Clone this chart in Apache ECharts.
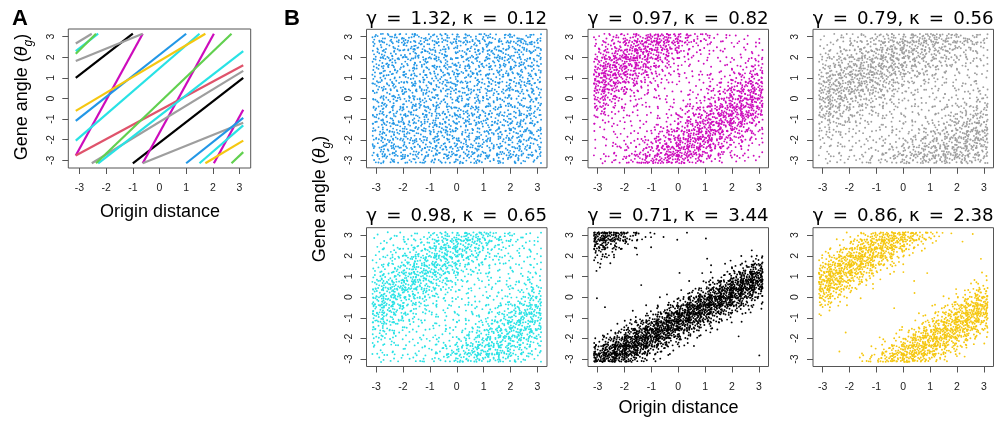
<!DOCTYPE html>
<html>
<head>
<meta charset="utf-8">
<title>Gene angle vs origin distance</title>
<script src="https://cdn.jsdelivr.net/npm/echarts@6/dist/echarts.min.js"></script>
<style>html,body{margin:0;background:#fff;}</style>
</head>
<body>
<div id="main" style="width:997px;height:421px;"></div>
<script>
var ticks = [-3, -2, -1, 0, 1, 2, 3];

// panel A: each coloured line, as segments [x1, y1, x2, y2] (wrapped at +-pi)
var lineColors = ['#000000', '#CD0BBC', '#DF536B', '#9E9E9E', '#9E9E9E',
                  '#2297E6', '#28E2E5', '#28E2E5', '#F5C710', '#61D04F'];
var lineSegs = [
  [[-3.14, 1.00, -1.00, 3.14], [-1.00, -3.14, 3.14, 1.00]],
  [[-3.14, -2.76, -0.63, 3.14], [-0.63, -3.14, 2.04, 3.14], [2.04, -3.14, 3.14, -0.55]],
  [[-3.14, -2.76, 3.14, 1.61]],
  [[-3.14, 1.82, -0.63, 3.14], [-0.63, -3.14, 3.14, -1.18]],
  [[-3.14, 2.67, -2.54, 3.14], [-2.54, -3.14, 3.14, 1.34]],
  [[-3.14, -1.08, 1.00, 3.14], [1.00, -3.14, 3.14, -0.94]],
  [[-3.14, -2.04, 1.50, 3.14], [1.50, -3.14, 3.14, -1.30]],
  [[-3.14, 2.30, -2.30, 3.14], [-2.30, -3.14, 3.14, 2.30]],
  [[-3.14, -0.60, 1.72, 3.14], [1.72, -3.14, 3.14, -2.04]],
  [[-3.14, 2.17, -2.38, 3.14], [-2.38, -3.14, 2.70, 3.14], [2.70, -3.14, 3.14, -2.60]]
];

// panel B: titles, dot colours, and point counts read off each cloud
// (16 x 16 cells over [-pi, pi]; rows run from top (y = pi) to bottom)
var titles = ['γ\u2002=\u20021.32, κ\u2002=\u20020.12', 'γ\u2002=\u20020.97, κ\u2002=\u20020.82',
              'γ\u2002=\u20020.79, κ\u2002=\u20020.56', 'γ\u2002=\u20020.98, κ\u2002=\u20020.65',
              'γ\u2002=\u20020.71, κ\u2002=\u20023.44', 'γ\u2002=\u20020.86, κ\u2002=\u20022.38'];
var dotColors = ['#2297E6', '#CD0BBC', '#9E9E9E', '#28E2E5', '#000000', '#F5C710'];

var blueCounts = [
  [10,9,11,10,9,8,10,9,10,11,9,8,9,10,9,8],
  [9,8,9,10,11,9,8,8,9,9,10,9,8,9,10,9],
  [8,9,8,9,10,10,9,7,8,9,10,11,10,9,8,9],
  [9,10,8,7,9,9,8,8,9,10,9,9,10,10,9,8],
  [8,9,8,8,7,9,10,9,8,9,8,8,9,9,10,8],
  [9,8,7,8,8,8,9,10,9,8,7,8,8,9,8,9],
  [8,7,8,9,8,7,8,9,10,9,8,7,9,8,9,8],
  [7,8,9,8,9,8,7,8,9,8,9,8,8,7,8,9],
  [8,9,8,9,9,8,9,7,8,9,8,9,8,8,7,8],
  [9,8,9,10,8,9,8,8,9,10,9,8,7,8,9,8],
  [9,10,9,8,9,10,9,9,8,9,10,9,8,9,8,9],
  [8,9,10,9,9,10,10,9,8,8,9,10,9,8,9,8],
  [9,8,9,10,9,9,10,10,9,8,8,9,10,9,8,9],
  [10,9,8,9,10,9,11,9,10,9,9,8,9,10,9,8],
  [9,10,9,8,9,10,9,10,9,10,9,9,8,9,10,9],
  [8,9,10,9,8,9,8,9,10,9,10,9,8,9,8,7]
];
var magentaCounts = [
  [4,6,8,12,16,19,20,17,13,9,6,4,3,2,2,2],
  [6,9,12,16,19,20,17,13,9,6,4,3,2,2,2,3],
  [9,13,16,19,20,17,13,9,6,4,3,2,2,2,3,4],
  [13,17,19,19,17,13,9,6,4,3,2,2,2,3,4,6],
  [17,20,19,16,13,9,6,4,3,2,2,2,3,4,6,10],
  [20,19,16,12,9,6,4,3,2,2,2,3,5,7,10,14],
  [19,16,12,9,6,4,3,2,2,2,3,5,7,10,14,18],
  [16,12,8,6,4,3,2,2,2,3,5,7,10,14,18,20],
  [12,8,5,4,3,2,2,2,3,5,7,10,14,18,20,18],
  [8,5,4,3,2,2,2,3,5,7,11,15,18,20,18,15],
  [5,4,3,2,2,2,3,5,7,11,15,18,20,18,15,11],
  [3,3,2,2,3,3,5,7,11,15,19,20,18,14,10,7],
  [2,2,2,3,3,5,8,11,15,19,20,18,14,10,7,5],
  [2,2,3,4,5,8,12,15,19,20,18,14,10,7,5,3],
  [2,3,4,6,8,12,16,19,20,17,13,10,6,4,3,2],
  [3,4,6,8,12,16,19,20,17,13,9,6,4,3,2,2]
];
var grayCounts = [
  [3,3,4,5,6,8,10,12,13,15,15,14,12,10,9,7],
  [4,4,6,7,8,10,12,14,15,15,13,12,10,8,7,5],
  [5,6,7,9,11,13,14,15,14,13,11,9,7,6,5,4],
  [6,8,10,12,13,15,15,14,12,11,9,7,6,4,4,3],
  [8,10,12,14,15,15,13,12,10,8,7,5,4,3,3,3],
  [11,13,14,15,14,13,11,9,7,6,5,4,3,3,3,3],
  [13,15,15,14,12,11,9,7,6,4,4,3,3,3,3,4],
  [15,15,13,12,10,8,7,5,4,3,3,3,3,3,4,5],
  [14,13,11,9,7,6,5,4,3,3,3,3,4,4,6,7],
  [12,11,9,7,6,4,4,3,3,3,3,4,5,6,7,9],
  [10,8,7,5,4,3,3,3,3,3,4,5,6,8,10,12],
  [7,6,5,4,3,3,3,3,4,4,6,7,8,10,12,14],
  [6,4,4,3,3,3,3,4,5,6,7,9,11,13,14,15],
  [4,3,3,3,3,3,4,5,6,8,10,12,13,15,15,14],
  [3,3,3,3,4,4,6,7,8,10,12,14,15,15,13,12],
  [3,3,3,4,5,6,7,9,11,13,14,15,14,13,11,9]
];
var cyanCounts = [
  [3,3,3,4,5,7,10,13,15,16,14,11,8,6,4,3],
  [3,3,4,5,7,10,13,15,16,14,11,8,6,4,3,3],
  [3,4,5,7,10,13,15,16,14,11,8,6,4,3,3,3],
  [4,5,7,10,13,15,16,14,11,8,6,4,3,3,3,3],
  [5,7,10,13,15,16,14,11,8,6,4,3,3,3,3,4],
  [7,10,13,15,16,14,11,8,6,4,3,3,3,3,4,5],
  [10,13,15,16,14,11,8,6,4,3,3,3,3,4,5,7],
  [13,15,16,14,11,8,6,4,3,3,3,3,4,5,7,10],
  [15,16,14,11,8,6,4,3,3,3,3,4,5,7,10,13],
  [16,14,11,8,6,4,3,3,3,3,4,5,7,10,13,15],
  [14,11,8,6,4,3,3,3,3,4,5,7,10,13,15,16],
  [11,8,6,4,3,3,3,3,4,5,7,10,13,15,16,14],
  [8,6,4,3,3,3,3,4,5,7,10,13,15,16,14,11],
  [6,4,3,3,3,3,4,5,7,10,13,15,16,14,11,8],
  [4,3,3,3,3,4,5,7,10,13,15,16,14,11,8,6],
  [3,3,3,3,4,5,7,10,13,15,16,14,11,8,6,4]
];
var blackCounts = [
  [36,32,22,12,5,2,1,0,0,0,1,0,0,0,0,0],
  [25,16,8,3,1,1,0,1,0,0,0,0,0,0,0,0],
  [12,5,2,1,0,0,0,0,0,0,0,0,0,0,0,2],
  [5,2,0,0,0,0,0,0,0,0,1,1,0,1,3,9],
  [2,0,0,0,0,0,0,0,0,0,0,0,2,5,13,26],
  [0,0,0,0,0,0,0,0,1,0,1,3,8,19,33,44],
  [0,0,0,0,1,0,0,0,0,1,5,13,25,39,45,39],
  [0,0,0,0,0,0,0,1,2,8,18,32,43,44,33,19],
  [1,0,0,0,0,0,1,4,12,25,39,45,40,27,13,5],
  [0,1,0,1,1,2,7,17,31,43,44,34,20,9,3,1],
  [0,0,0,1,4,11,23,38,45,40,27,14,5,2,0,1],
  [0,0,2,7,16,30,42,44,35,21,9,4,1,0,0,0],
  [1,4,11,23,37,45,41,28,15,6,2,0,0,1,0,0],
  [6,16,30,42,45,36,22,10,4,1,0,0,0,0,0,0],
  [22,36,45,42,29,15,6,2,0,0,0,0,0,0,0,0],
  [38,42,36,22,10,4,1,0,1,0,0,0,0,0,0,1]
];
var yellowCounts = [
  [0,0,1,5,11,19,26,28,22,14,7,2,0,0,1,0],
  [0,2,5,12,20,27,27,21,12,6,2,0,0,1,0,0],
  [2,6,13,22,28,27,20,11,5,1,0,0,0,0,0,0],
  [7,15,23,28,26,18,10,4,1,0,0,0,0,0,0,1],
  [16,24,28,25,17,9,3,2,0,0,0,0,0,0,0,0],
  [25,28,23,15,8,3,1,0,0,0,1,0,0,0,0,2],
  [28,22,14,7,2,1,0,0,0,1,0,0,0,0,2,6],
  [21,13,6,2,0,0,0,0,0,1,0,0,1,3,8,15],
  [11,5,2,0,0,0,0,0,0,0,0,1,3,9,16,24],
  [4,1,0,0,0,0,0,1,0,0,1,4,10,18,25,28],
  [1,0,0,0,0,0,0,0,0,1,5,11,19,27,28,22],
  [0,0,0,0,0,0,0,0,2,5,12,21,27,27,21,12],
  [0,0,1,0,0,0,0,2,6,14,22,28,27,19,11,5],
  [0,0,0,0,0,1,3,7,15,23,28,25,18,10,4,1],
  [0,1,0,0,1,3,8,16,24,28,24,17,9,3,1,0],
  [0,0,0,1,4,9,18,25,28,23,15,8,3,1,0,0]
];
var cloudCounts = [blueCounts, magentaCounts, grayCounts, cyanCounts, blackCounts, yellowCounts];

// spread each cell's count over the cell with a Halton (2,3) sequence,
// starting each cell at a different index so cells do not line up
function halton(idx, base) {
  var f = 1, r = 0;
  while (idx > 0) { f /= base; r += f * (idx % base); idx = Math.floor(idx / base); }
  return r;
}
function cloud(counts) {
  var pts = [], n = counts.length, w = 2 * Math.PI / n, PI = Math.PI;
  function foldX(v) { return v > PI ? 2 * PI - v : (v < -PI ? -2 * PI - v : v); }
  function wrapY(v) { return v > PI ? v - 2 * PI : (v < -PI ? v + 2 * PI : v); }
  counts.forEach(function (row, j) {
    row.forEach(function (cnt, i) {
      var start = 1 + (((i * 73856093) ^ (j * 19349663)) >>> 0) % 6007;
      for (var m = 0; m < cnt; m++) {
        var u = halton(start + m, 2), v = halton(start + m, 3);
        var x = -PI + (i + 0.5 + (u - 0.5) * 1.3) * w;
        var y = PI - (j + 0.5 + (v - 0.5) * 1.3) * w;
        pts.push([foldX(x), wrapY(y)]);
      }
    });
  });
  return pts;
}

// plot boxes: [left, top, width, height]
var boxes = [
  [68.3, 29, 182.4, 139],
  [366.5, 29.3, 180.5, 138.5], [588, 29.3, 180.5, 138.5], [813, 29.3, 180.5, 138.5],
  [366.5, 227.7, 180.5, 138.8], [588, 227.7, 180.5, 138.8], [813, 227.7, 180.5, 138.8]
];
var tickFont = { fontFamily: 'Liberation Sans', fontSize: 10.5, color: '#222' };

var grids = [], xAxes = [], yAxes = [];
boxes.forEach(function (b, gi) {
  var xr = gi === 0 ? 3.42 : 3.36, yr = gi === 0 ? 3.37 : 3.36;
  grids.push({ left: b[0], top: b[1], width: b[2], height: b[3], show: true,
               borderColor: '#555', borderWidth: 1, backgroundColor: 'transparent' });
  xAxes.push({ gridIndex: gi, type: 'value', min: -xr, max: xr, position: 'bottom',
    axisLine: { show: false, onZero: false }, splitLine: { show: false },
    axisTick: { show: true, customValues: ticks, length: 6, lineStyle: { color: '#555' } },
    axisLabel: Object.assign({ customValues: ticks, margin: 15 }, tickFont) });
  yAxes.push({ gridIndex: gi, type: 'value', min: -yr, max: yr, position: 'left',
    axisLine: { show: false, onZero: false }, splitLine: { show: false },
    axisTick: { show: true, customValues: ticks, length: 6, lineStyle: { color: '#555' } },
    axisLabel: Object.assign({ customValues: ticks, margin: 12, rotate: 90 }, tickFont) });
});

var series = [];
var segData = [];
lineSegs.forEach(function (segs, li) {
  segs.forEach(function (s) {
    segData.push({ coords: [[s[0], s[1]], [s[2], s[3]]], lineStyle: { color: lineColors[li] } });
  });
});
series.push({ type: 'lines', coordinateSystem: 'cartesian2d', xAxisIndex: 0, yAxisIndex: 0,
  data: segData, lineStyle: { width: 2.2, opacity: 1 }, silent: true, animation: false });

cloudCounts.forEach(function (c, p) {
  series.push({ type: 'scatter', xAxisIndex: p + 1, yAxisIndex: p + 1, data: cloud(c),
    symbol: 'circle', symbolSize: 1.9, itemStyle: { color: dotColors[p], opacity: 1 },
    silent: true, animation: false, large: false });
});

var graphic = [];
function txt(x, y, text, font, extra) {
  var el = { type: 'text', x: x, y: y, silent: true,
    style: Object.assign({ text: text, align: 'center', verticalAlign: 'middle', fill: '#000' }, font) };
  return Object.assign(el, extra || {});
}
var bold = { fontFamily: 'Liberation Sans', fontSize: 22, fontWeight: 'bold' };
graphic.push(txt(20, 18.5, 'A', bold));
graphic.push(txt(292, 18.5, 'B', bold));
titles.forEach(function (t, p) {
  var b = boxes[p + 1];
  graphic.push(txt(b[0] + b[2] / 2, p < 3 ? 19 : 216.5, t,
    { fontFamily: 'DejaVu Sans', fontSize: 18.2 }));
});
var axFont = { fontFamily: 'Liberation Sans', fontSize: 18 };
graphic.push(txt(160, 212, 'Origin distance', axFont));
graphic.push(txt(678.5, 408, 'Origin distance', axFont));
var yRich = {
  n: { fontFamily: 'Liberation Sans', fontSize: 18, lineHeight: 26 },
  t: { fontFamily: 'Liberation Sans', fontSize: 18, fontStyle: 'italic', lineHeight: 26 },
  s: { fontFamily: 'Liberation Sans', fontSize: 12, fontStyle: 'italic', lineHeight: 26, verticalAlign: 'bottom' }
};
var yLabel = '{n|Gene angle (}{t|θ}{s|g}{n|)}';
graphic.push(txt(22, 97, yLabel, { rich: yRich }, { rotation: Math.PI / 2 }));
graphic.push(txt(320, 199, yLabel, { rich: yRich }, { rotation: Math.PI / 2 }));

var myChart = echarts.init(document.getElementById('main'), null, { renderer: 'canvas' });
myChart.setOption({
  animation: false,
  backgroundColor: '#fff',
  grid: grids,
  xAxis: xAxes,
  yAxis: yAxes,
  series: series,
  graphic: graphic
});
</script>
</body>
</html>
